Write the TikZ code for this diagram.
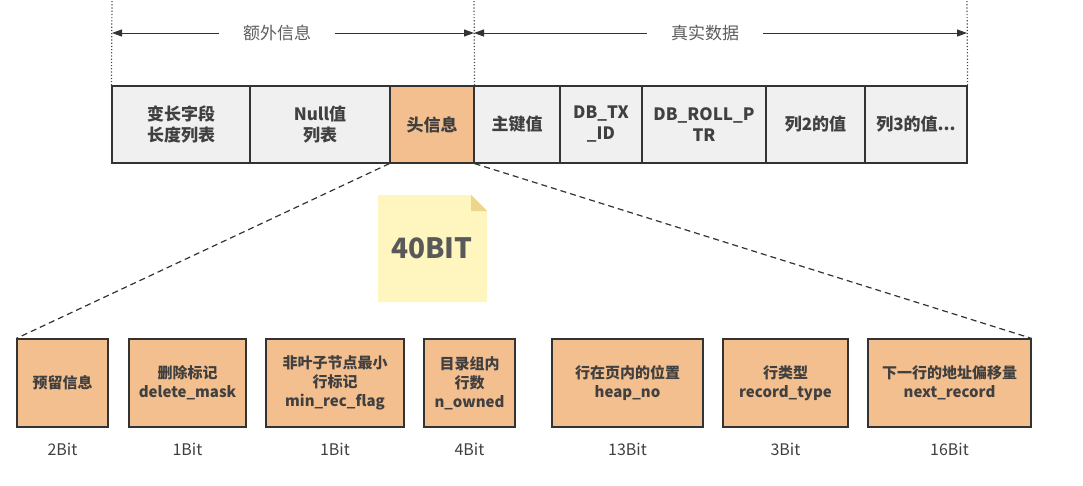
\documentclass[tikz,border=0pt]{standalone}
\usepackage{fontspec}
\setmainfont{Noto Sans CJK SC}
\usetikzlibrary{arrows.meta}
\definecolor{linecol}{HTML}{333333}
\definecolor{cellcol}{HTML}{F0F0F0}
\definecolor{headcol}{HTML}{F4BF8E}
\definecolor{textcol}{HTML}{404040}
\definecolor{notecol}{HTML}{FFF5BF}
\definecolor{foldcol}{HTML}{EBD68C}
\tikzset{
  cell/.style={draw=linecol, line width=1.2pt, fill=cellcol, inner sep=0pt,
    minimum height=77pt, align=center, text=textcol,
    font=\fontsize{17}{21}\selectfont\bfseries},
  field/.style={cell, fill=headcol, minimum height=88pt,
    font=\fontsize{15}{19}\selectfont\bfseries},
  bits/.style={text=textcol, font=\fontsize{16}{19}\selectfont},
  span/.style={fill=white, text=textcol!85!white, inner xsep=24pt, outer sep=0pt,
    font=\fontsize{17}{20}\selectfont},
  guide/.style={dotted, line width=1.2pt, black!70},
  dimarrow/.style={{Triangle[length=10pt,width=7pt]}-{Triangle[length=10pt,width=7pt]},
    line width=1pt, linecol},
  zoomline/.style={dashed, dash pattern=on 6pt off 4pt, line width=1.2pt, linecol}
}

\begin{document}
\begin{tikzpicture}[x=1pt, y=-1pt]
  \useasboundingbox (0,0) rectangle (1083,485);

  % Row layout (top).
  \node[cell, minimum width=138pt] (varlen) at (181,124.5) {变长字段\\长度列表};
  \node[cell, minimum width=140pt] (nulls) at (320,124.5) {Null值\\列表};
  \node[cell, fill=headcol, minimum width=84pt] (head) at (432,124.5) {头信息};
  \node[cell, minimum width=86pt] (pkey) at (517,124.5) {主键值};
  \node[cell, minimum width=82pt] (trxid) at (601,124.5) {DB\_TX\\\_ID};
  \node[cell, minimum width=124pt] (rollptr) at (704,124.5) {DB\_ROLL\_P\\TR};
  \node[cell, minimum width=99pt] (col2) at (815.5,124.5) {列2的值};
  \node[cell, minimum width=102pt] (col3) at (916,124.5) {列3的值...};

  % Guide lines above the row.
  \coordinate (gextra) at (112,0);
  \coordinate (gsplit) at (474,0);
  \coordinate (greal) at (967,0);
  \draw[guide] (varlen.north west) -- (gextra);
  \draw[guide] (head.north east) -- (gsplit);
  \draw[guide] (col3.north east) -- (greal);

  % Span arrows.
  \coordinate (aleft) at (112,33);
  \coordinate (amid) at (474,33);
  \coordinate (aright) at (967,33);
  \draw[dimarrow] (aleft) -- (amid);
  \draw[dimarrow] (amid) -- (aright);
  \node[span] (extra) at (277,33) {额外信息};
  \node[span] (real) at (705,33) {真实数据};

  % Note: total size of the header.
  \fill[notecol] (378,195) -- (471,195) -- (487,211) -- (487,302) -- (378,302) -- cycle;
  \fill[foldcol] (471,195) -- (487,211) -- (471,211) -- cycle;
  \node[text=black!65, font=\fontsize{28}{30}\selectfont\bfseries] (total) at (432,248) {40BIT};

  % Header fields (bottom).
  \node[field, minimum width=91pt] (reserved) at (62.5,383) {预留信息};
  \node[field, minimum width=117pt] (delmask) at (187.5,383) {删除标记\\delete\_mask};
  \node[field, minimum width=138pt] (minrec) at (335,383) {非叶子节点最小\\行标记\\min\_rec\_flag};
  \node[field, minimum width=91pt] (owned) at (469.5,383) {目录组内\\行数\\n\_owned};
  \node[field, minimum width=151pt] (heapno) at (627.5,383) {行在页内的位置\\heap\_no};
  \node[field, minimum width=125pt] (rectype) at (785.5,383) {行类型\\record\_type};
  \node[field, minimum width=163pt] (nextrec) at (949.5,383) {下一行的地址偏移量\\next\_record};

  % Bit widths.
  \node[bits, below=12pt] (breserved) at (reserved.south) {2Bit};
  \node[bits, below=12pt] (bdelmask) at (delmask.south) {1Bit};
  \node[bits, below=12pt] (bminrec) at (minrec.south) {1Bit};
  \node[bits, below=12pt] (bowned) at (owned.south) {4Bit};
  \node[bits, below=12pt] (bheapno) at (heapno.south) {13Bit};
  \node[bits, below=12pt] (brectype) at (rectype.south) {3Bit};
  \node[bits, below=12pt] (bnextrec) at (nextrec.south) {16Bit};

  % Zoom lines from the header cell.
  \draw[zoomline] (head.south west) -- (reserved.north west);
  \draw[zoomline] (head.south east) -- (nextrec.north east);

\end{tikzpicture}
\end{document}
